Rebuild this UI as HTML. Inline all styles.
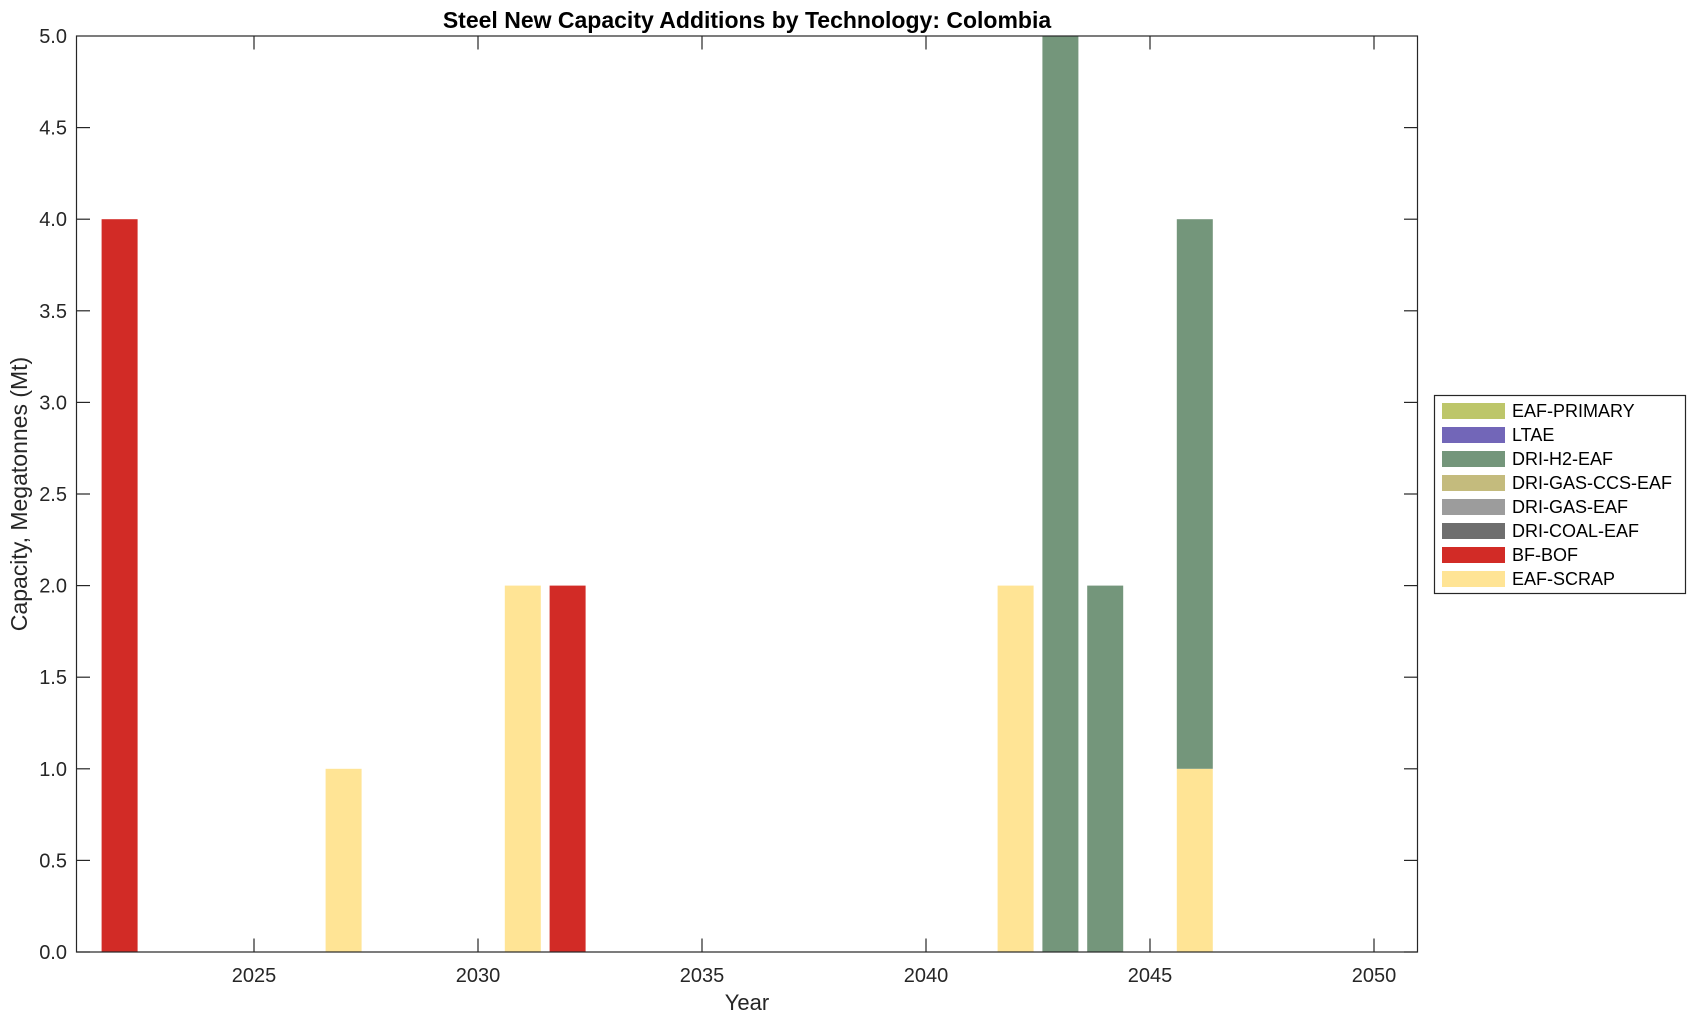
<!DOCTYPE html>
<html><head><meta charset="utf-8"><style>
html,body{margin:0;padding:0;background:#fff;}
svg{display:block;font-family:"Liberation Sans",Arial,sans-serif;}
</style></head><body>
<svg width="1696" height="1021" viewBox="0 0 1696 1021" xmlns="http://www.w3.org/2000/svg">
<rect width="1696" height="1021" fill="#fff"/>
<g>
<rect x="101.6" y="219.2" width="36" height="732.8" fill="#d22b26"/>
<rect x="325.6" y="768.8" width="36" height="183.2" fill="#ffe495"/>
<rect x="504.8" y="585.6" width="36" height="366.4" fill="#ffe495"/>
<rect x="549.6" y="585.6" width="36" height="366.4" fill="#d22b26"/>
<rect x="997.6" y="585.6" width="36" height="366.4" fill="#ffe495"/>
<rect x="1042.4" y="36" width="36" height="916" fill="#74967b"/>
<rect x="1087.2" y="585.6" width="36" height="366.4" fill="#74967b"/>
<rect x="1176.8" y="768.8" width="36" height="183.2" fill="#ffe495"/>
<rect x="1176.8" y="219.2" width="36" height="549.6" fill="#74967b"/>
</g>
<rect x="76.5" y="36" width="1341" height="916" fill="none" stroke="#262626" stroke-width="1.2"/>
<g stroke="#262626" stroke-width="1.2">
<line x1="76.5" y1="952" x2="90" y2="952"/><line x1="1417.5" y1="952" x2="1404" y2="952"/>
<line x1="76.5" y1="860.4" x2="90" y2="860.4"/><line x1="1417.5" y1="860.4" x2="1404" y2="860.4"/>
<line x1="76.5" y1="768.8" x2="90" y2="768.8"/><line x1="1417.5" y1="768.8" x2="1404" y2="768.8"/>
<line x1="76.5" y1="677.2" x2="90" y2="677.2"/><line x1="1417.5" y1="677.2" x2="1404" y2="677.2"/>
<line x1="76.5" y1="585.6" x2="90" y2="585.6"/><line x1="1417.5" y1="585.6" x2="1404" y2="585.6"/>
<line x1="76.5" y1="494" x2="90" y2="494"/><line x1="1417.5" y1="494" x2="1404" y2="494"/>
<line x1="76.5" y1="402.4" x2="90" y2="402.4"/><line x1="1417.5" y1="402.4" x2="1404" y2="402.4"/>
<line x1="76.5" y1="310.8" x2="90" y2="310.8"/><line x1="1417.5" y1="310.8" x2="1404" y2="310.8"/>
<line x1="76.5" y1="219.2" x2="90" y2="219.2"/><line x1="1417.5" y1="219.2" x2="1404" y2="219.2"/>
<line x1="76.5" y1="127.6" x2="90" y2="127.6"/><line x1="1417.5" y1="127.6" x2="1404" y2="127.6"/>
<line x1="254" y1="952" x2="254" y2="938.5"/><line x1="254" y1="36" x2="254" y2="49.5"/>
<line x1="478" y1="952" x2="478" y2="938.5"/><line x1="478" y1="36" x2="478" y2="49.5"/>
<line x1="702" y1="952" x2="702" y2="938.5"/><line x1="702" y1="36" x2="702" y2="49.5"/>
<line x1="926" y1="952" x2="926" y2="938.5"/><line x1="926" y1="36" x2="926" y2="49.5"/>
<line x1="1150" y1="952" x2="1150" y2="938.5"/><line x1="1150" y1="36" x2="1150" y2="49.5"/>
<line x1="1374" y1="952" x2="1374" y2="938.5"/><line x1="1374" y1="36" x2="1374" y2="49.5"/>
</g>
<g font-size="20" fill="#262626" text-anchor="end">
<text x="67" y="959">0.0</text>
<text x="67" y="867.4">0.5</text>
<text x="67" y="775.8">1.0</text>
<text x="67" y="684.2">1.5</text>
<text x="67" y="592.6">2.0</text>
<text x="67" y="501">2.5</text>
<text x="67" y="409.4">3.0</text>
<text x="67" y="317.8">3.5</text>
<text x="67" y="226.2">4.0</text>
<text x="67" y="134.6">4.5</text>
<text x="67" y="43">5.0</text>
</g>
<g font-size="20" fill="#262626" text-anchor="middle">
<text x="254" y="982">2025</text>
<text x="478" y="982">2030</text>
<text x="702" y="982">2035</text>
<text x="926" y="982">2040</text>
<text x="1150" y="982">2045</text>
<text x="1374" y="982">2050</text>
<text x="747" y="1010" font-size="22">Year</text>
<text x="747" y="28" font-size="23" font-weight="bold" fill="#000">Steel New Capacity Additions by Technology: Colombia</text>
<text transform="translate(27,494) rotate(-90)" font-size="23">Capacity, Megatonnes (Mt)</text>
</g>
<rect x="1434.5" y="395.5" width="251" height="198" fill="#fff" stroke="#262626" stroke-width="1.2"/>
<g>
<rect x="1442" y="403" width="63" height="16" fill="#bdc66a"/>
<rect x="1442" y="427" width="63" height="16" fill="#7266b8"/>
<rect x="1442" y="451" width="63" height="16" fill="#74967b"/>
<rect x="1442" y="475" width="63" height="16" fill="#c4bb7d"/>
<rect x="1442" y="499" width="63" height="16" fill="#9c9c9c"/>
<rect x="1442" y="523" width="63" height="16" fill="#6e6e6e"/>
<rect x="1442" y="547" width="63" height="16" fill="#d22b26"/>
<rect x="1442" y="571" width="63" height="16" fill="#ffe495"/>
</g>
<g font-size="18" fill="#000">
<text x="1512" y="417">EAF-PRIMARY</text>
<text x="1512" y="441">LTAE</text>
<text x="1512" y="465">DRI-H2-EAF</text>
<text x="1512" y="489">DRI-GAS-CCS-EAF</text>
<text x="1512" y="513">DRI-GAS-EAF</text>
<text x="1512" y="537">DRI-COAL-EAF</text>
<text x="1512" y="561">BF-BOF</text>
<text x="1512" y="585">EAF-SCRAP</text>
</g>
</svg>
</body></html>
